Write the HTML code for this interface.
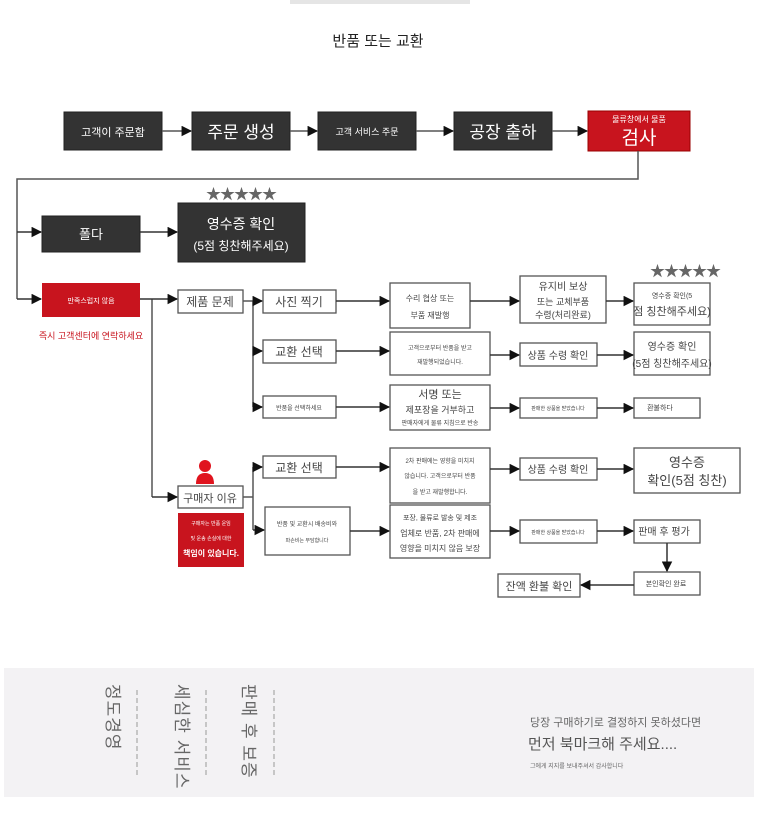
<!DOCTYPE html>
<html><head><meta charset="utf-8"><style>
body{margin:0;background:#fff;}
svg text{font-family:"Liberation Sans","Noto Sans CJK KR",sans-serif;}
.vt{position:absolute;writing-mode:vertical-rl;text-orientation:sideways;font-family:"Liberation Sans","Noto Sans CJK KR",sans-serif;color:#666;font-size:17px;letter-spacing:1px;}
</style></head><body>
<div style="position:relative;width:760px;height:818px;overflow:hidden;">
<svg width="760" height="818" viewBox="0 0 760 818" style="position:absolute;left:0;top:0">
<defs><marker id="a" viewBox="0 0 10 10" refX="9" refY="5" markerWidth="7" markerHeight="7" orient="auto"><path d="M0,0L10,5L0,10z" fill="#111"/></marker></defs>
<rect x="290" y="-8" width="180" height="12" fill="#ccc" opacity="0.5"/>
<text x="378" y="46" font-size="15" text-anchor="middle" fill="#222">반품 또는 교환</text>
<!-- row1 -->
<g fill="#333" stroke="#222">
<rect x="64" y="112" width="98" height="38"/><rect x="192" y="112" width="98" height="38"/>
<rect x="318" y="112" width="98" height="38"/><rect x="454" y="112" width="98" height="38"/>
</g>
<rect x="588" y="111" width="102" height="40" fill="#c8141e" stroke="#900"/>
<g fill="#fff" text-anchor="middle">
<text x="113" y="136" font-size="11">고객이 주문함</text>
<text x="241" y="138" font-size="17">주문 생성</text>
<text x="367" y="135" font-size="9">고객 서비스 주문</text>
<text x="503" y="138" font-size="17">공장 출하</text>
<text x="639" y="122" font-size="8">물류창에서 물품</text>
<text x="639" y="144" font-size="19">검사</text>
</g>
<g stroke="#555" stroke-width="1.5" fill="none" marker-end="url(#a)">
<line x1="162" y1="131" x2="191" y2="131"/><line x1="290" y1="131" x2="317" y2="131"/>
<line x1="416" y1="131" x2="453" y2="131"/><line x1="552" y1="131" x2="587" y2="131"/>
</g>
<g stroke="#555" stroke-width="1.5" fill="none">
<polyline points="638,151 638,179 17,179 17,299"/>
<line x1="152" y1="299" x2="152" y2="497"/>
<line x1="253" y1="301" x2="253" y2="407"/>
<line x1="253" y1="467" x2="253" y2="530"/>
<line x1="243" y1="301" x2="253" y2="301"/>
<line x1="243" y1="497" x2="253" y2="497"/>
</g>
<!-- row2 -->
<rect x="42" y="216" width="98" height="36" fill="#333" stroke="#222"/>
<rect x="178" y="203" width="127" height="59" fill="#333" stroke="#222"/>
<text x="91" y="239" font-size="13" fill="#fff" text-anchor="middle">폴다</text>
<text x="241" y="229" font-size="14" fill="#fff" text-anchor="middle">영수증 확인</text>
<text x="241" y="250" font-size="12" fill="#fff" text-anchor="middle">(5점 칭찬해주세요)</text>
<text x="241" y="199" font-size="15" fill="#666" text-anchor="middle" letter-spacing="-1">★★★★★</text>
<text x="685" y="276" font-size="15" fill="#666" text-anchor="middle" letter-spacing="-1">★★★★★</text>
<rect x="42" y="283" width="98" height="34" fill="#c8141e"/>
<text x="91" y="303" font-size="7" fill="#fff" text-anchor="middle">만족스럽지 않음</text>
<text x="91" y="339" font-size="9" fill="#c8141e" text-anchor="middle">즉시 고객센터에 연락하세요</text>
<!-- white boxes -->
<g fill="#fff" stroke="#555" stroke-width="1.3">
<rect x="178" y="290" width="65" height="23"/><rect x="263" y="290" width="73" height="23"/>
<rect x="390" y="283" width="80" height="45"/><rect x="520" y="276" width="86" height="47"/>
<rect x="634" y="283" width="76" height="42"/>
<rect x="263" y="340" width="73" height="23"/><rect x="390" y="332" width="100" height="43"/>
<rect x="520" y="343" width="77" height="23"/><rect x="634" y="332" width="76" height="43"/>
<rect x="263" y="396" width="73" height="22"/><rect x="390" y="385" width="100" height="45"/>
<rect x="520" y="398" width="77" height="20"/><rect x="634" y="398" width="66" height="20"/>
<rect x="178" y="486" width="65" height="22"/>
<rect x="263" y="456" width="73" height="22"/><rect x="390" y="448" width="100" height="55"/>
<rect x="520" y="458" width="77" height="22"/><rect x="634" y="448" width="106" height="45"/>
<rect x="265" y="507" width="85" height="48"/><rect x="390" y="505" width="100" height="53"/>
<rect x="520" y="520" width="77" height="23"/><rect x="634" y="520" width="66" height="23"/>
<rect x="634" y="572" width="66" height="23"/><rect x="498" y="574" width="82" height="23"/>
</g>
<rect x="178" y="513" width="66" height="54" fill="#c8141e"/>
<circle cx="205" cy="466" r="6" fill="#e0141e"/>
<path d="M196,484 Q196,473 205,473 Q214,473 214,484Z" fill="#e0141e"/>
<g fill="#444" text-anchor="middle">
<text x="210" y="306" font-size="12">제품 문제</text>
<text x="299" y="306" font-size="12">사진 찍기</text>
<text x="430" y="301" font-size="8">수리 협상 또는</text>
<text x="430" y="318" font-size="8">부품 재발행</text>
<text x="563" y="290" font-size="10">유지비 보상</text>
<text x="563" y="305" font-size="9">또는 교체부품</text>
<text x="563" y="318" font-size="9">수령(처리완료)</text>
<text x="672" y="298" font-size="7">영수증 확인(5</text>
<text x="672" y="315" font-size="11">점 칭찬해주세요)</text>
<text x="299" y="356" font-size="12">교환 선택</text>
<text x="440" y="350" font-size="6">고객으로부터 반품을 받고</text>
<text x="440" y="364" font-size="6">재발행되었습니다.</text>
<text x="558" y="359" font-size="10">상품 수령 확인</text>
<text x="672" y="350" font-size="10">영수증 확인</text>
<text x="672" y="367" font-size="10">(5점 칭찬해주세요)</text>
<text x="299" y="410" font-size="6">반품을 선택하세요</text>
<text x="440" y="398" font-size="11">서명 또는</text>
<text x="440" y="413" font-size="9">제포장을 거부하고</text>
<text x="440" y="425" font-size="6">판매자에게 물류 지침으로 반송</text>
<text x="558" y="410" font-size="5">판매한 상품을 받았습니다</text>
<text x="660" y="410" font-size="7">환불하다</text>
<text x="210" y="502" font-size="11">구매자 이유</text>
<text x="299" y="472" font-size="12">교환 선택</text>
<text x="440" y="463" font-size="6">2차 판매에는 영향을 미치지</text>
<text x="440" y="478" font-size="6">않습니다. 고객으로부터 반품</text>
<text x="440" y="494" font-size="6">을 받고 재발행합니다.</text>
<text x="558" y="473" font-size="10">상품 수령 확인</text>
<text x="687" y="467" font-size="13">영수증</text>
<text x="687" y="485" font-size="13">확인(5점 칭찬)</text>
<text x="307" y="526" font-size="6">반품 및 교환시 배송비와</text>
<text x="307" y="542" font-size="5">파손비는 부담합니다</text>
<text x="440" y="520" font-size="7">포장, 물류로 발송 및 제조</text>
<text x="440" y="536" font-size="8">업체로 반품, 2차 판매에</text>
<text x="440" y="551" font-size="8">영향을 미치지 않음 보장</text>
<text x="558" y="534" font-size="5">판매한 상품을 받았습니다</text>
<text x="664" y="535" font-size="10">판매 후 평가</text>
<text x="666" y="586" font-size="7">본인확인 완료</text>
<text x="539" y="590" font-size="11">잔액 환불 확인</text>
</g>
<g fill="#fff" text-anchor="middle">
<text x="211" y="525" font-size="5">구매자는 반품 운임</text>
<text x="211" y="540" font-size="5">및 운송 손실에 대한</text>
<text x="211" y="556" font-size="8" font-weight="bold">책임이 있습니다.</text>
</g>
<g stroke="#333" stroke-width="1.5" fill="none" marker-end="url(#a)">
<line x1="17" y1="232" x2="41" y2="232"/><line x1="140" y1="232" x2="177" y2="232"/>
<line x1="17" y1="299" x2="41" y2="299"/>
<line x1="140" y1="299" x2="177" y2="299"/>
<line x1="152" y1="497" x2="177" y2="497"/>
<line x1="253" y1="301" x2="262" y2="301"/><line x1="253" y1="351" x2="262" y2="351"/><line x1="253" y1="407" x2="262" y2="407"/>
<line x1="253" y1="467" x2="262" y2="467"/><line x1="253" y1="530" x2="264" y2="530"/>
<line x1="336" y1="301" x2="389" y2="301"/><line x1="470" y1="301" x2="519" y2="301"/><line x1="606" y1="301" x2="633" y2="301"/>
<line x1="336" y1="351" x2="389" y2="351"/><line x1="490" y1="355" x2="519" y2="355"/><line x1="597" y1="355" x2="633" y2="355"/>
<line x1="336" y1="407" x2="389" y2="407"/><line x1="490" y1="408" x2="519" y2="408"/><line x1="597" y1="408" x2="633" y2="408"/>
<line x1="336" y1="467" x2="389" y2="467"/><line x1="490" y1="469" x2="519" y2="469"/><line x1="597" y1="469" x2="633" y2="469"/>
<line x1="350" y1="531" x2="389" y2="531"/><line x1="490" y1="531" x2="519" y2="531"/><line x1="597" y1="531" x2="633" y2="531"/>
<line x1="667" y1="543" x2="667" y2="571"/><line x1="634" y1="585" x2="581" y2="585"/>
</g>
<!-- footer -->
<rect x="4" y="668" width="750" height="129" fill="#f3f2f4"/>
<g stroke="#999" stroke-dasharray="5,3" stroke-width="1">
<line x1="137" y1="690" x2="137" y2="775"/><line x1="206" y1="690" x2="206" y2="775"/><line x1="274" y1="690" x2="274" y2="775"/>
</g>
<text x="530" y="726" font-size="11" fill="#666">당장 구매하기로 결정하지 못하셨다면</text>
<text x="528" y="749" font-size="15" fill="#555">먼저 북마크해 주세요....</text>
<text x="530" y="768" font-size="6" fill="#666">그에게 지지를 보내주셔서 감사합니다</text>
</svg>
<div class="vt" style="left:102px;top:684px;">정도경영</div>
<div class="vt" style="left:171px;top:684px;">세심한 서비스</div>
<div class="vt" style="left:238px;top:684px;">판매 후 보증</div>
</div>
</body></html>
